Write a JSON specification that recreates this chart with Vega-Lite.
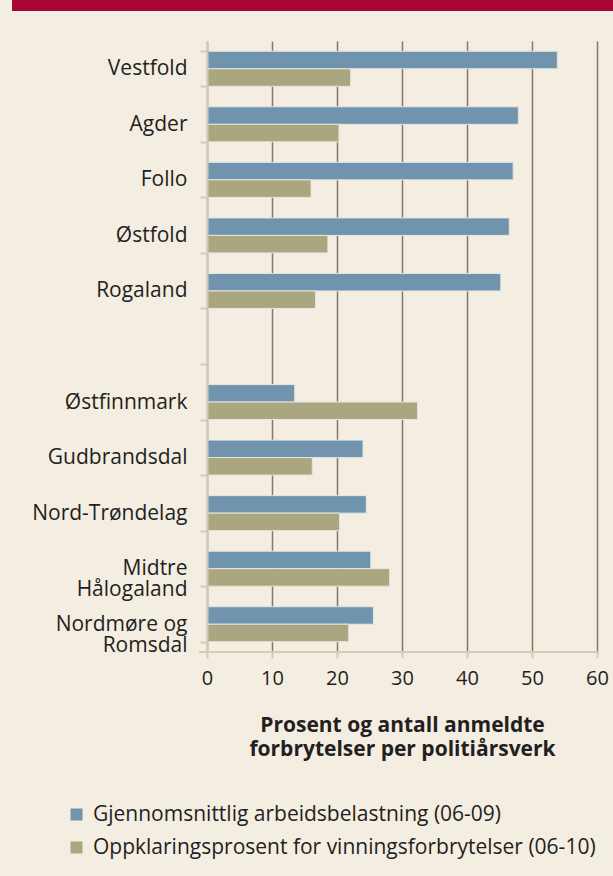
{
  "$schema": "https://vega.github.io/schema/vega-lite/v6.json",
  "background": "#f4ede1",
  "padding": {"left": 12, "top": 0, "right": 0, "bottom": 20},
  "config": {"font": "Open Sans", "view": {"stroke": null}},
  "spacing": 19,
  "resolve": {"legend": {"color": "independent"}},
  "vconcat": [
    {
      "width": 601,
      "height": 11,
      "view": {"fill": "#a80535", "stroke": null},
      "data": {"values": [{}]},
      "mark": {"type": "point", "opacity": 0},
      "encoding": {}
    },
    {
      "width": 601,
      "height": 611,
      "data": {
        "values": [
          {"region": "Vestfold", "series": "Gjennomsnittlig arbeidsbelastning (06-09)", "value": 53.9},
          {"region": "Vestfold", "series": "Oppklaringsprosent for vinningsforbrytelser (06-10)", "value": 22.1},
          {"region": "Agder", "series": "Gjennomsnittlig arbeidsbelastning (06-09)", "value": 47.9},
          {"region": "Agder", "series": "Oppklaringsprosent for vinningsforbrytelser (06-10)", "value": 20.3},
          {"region": "Follo", "series": "Gjennomsnittlig arbeidsbelastning (06-09)", "value": 47.1},
          {"region": "Follo", "series": "Oppklaringsprosent for vinningsforbrytelser (06-10)", "value": 16.0},
          {"region": "Østfold", "series": "Gjennomsnittlig arbeidsbelastning (06-09)", "value": 46.5},
          {"region": "Østfold", "series": "Oppklaringsprosent for vinningsforbrytelser (06-10)", "value": 18.6},
          {"region": "Rogaland", "series": "Gjennomsnittlig arbeidsbelastning (06-09)", "value": 45.2},
          {"region": "Rogaland", "series": "Oppklaringsprosent for vinningsforbrytelser (06-10)", "value": 16.7},
          {"region": "Østfinnmark", "series": "Gjennomsnittlig arbeidsbelastning (06-09)", "value": 13.5},
          {"region": "Østfinnmark", "series": "Oppklaringsprosent for vinningsforbrytelser (06-10)", "value": 32.4},
          {"region": "Gudbrandsdal", "series": "Gjennomsnittlig arbeidsbelastning (06-09)", "value": 24.0},
          {"region": "Gudbrandsdal", "series": "Oppklaringsprosent for vinningsforbrytelser (06-10)", "value": 16.2},
          {"region": "Nord-Trøndelag", "series": "Gjennomsnittlig arbeidsbelastning (06-09)", "value": 24.5},
          {"region": "Nord-Trøndelag", "series": "Oppklaringsprosent for vinningsforbrytelser (06-10)", "value": 20.4},
          {"region": "Midtre|Hålogaland", "series": "Gjennomsnittlig arbeidsbelastning (06-09)", "value": 25.2},
          {"region": "Midtre|Hålogaland", "series": "Oppklaringsprosent for vinningsforbrytelser (06-10)", "value": 28.1},
          {"region": "Nordmøre og|Romsdal", "series": "Gjennomsnittlig arbeidsbelastning (06-09)", "value": 25.6},
          {"region": "Nordmøre og|Romsdal", "series": "Oppklaringsprosent for vinningsforbrytelser (06-10)", "value": 21.8}
        ]
      },
      "layer": [
        {
          "mark": {"type": "bar", "stroke": "#e3e6e2", "strokeWidth": 1},
          "encoding": {
            "y": {
              "field": "region",
              "type": "nominal",
              "scale": {
                "domain": ["Vestfold", "Agder", "Follo", "Østfold", "Rogaland", " ", "Østfinnmark", "Gudbrandsdal", "Nord-Trøndelag", "Midtre|Hålogaland", "Nordmøre og|Romsdal"],
                "paddingInner": 0.37,
                "paddingOuter": 0.185
              },
              "axis": {
                "title": null,
                "offset": -195,
                "labelExpr": "split(datum.label, '|')",
                "labelFontSize": 21,
                "labelColor": "#231f20",
                "labelPadding": 13,
                "labelLineHeight": 21,
                "labelLimit": 300,
                "domainColor": "#d5ccb5",
                "domainWidth": 2,
                "tickColor": "#d5ccb5",
                "tickWidth": 2,
                "tickSize": 7,
                "tickBand": "extent",
                "zindex": 1,
                "grid": false
              }
            },
            "yOffset": {
              "field": "series",
              "type": "nominal",
              "scale": {"domain": ["Gjennomsnittlig arbeidsbelastning (06-09)", "Oppklaringsprosent for vinningsforbrytelser (06-10)"], "paddingInner": 0, "paddingOuter": 0}
            },
            "x": {
              "field": "value",
              "type": "quantitative",
              "scale": {"domain": [-30, 62.46], "nice": false, "zero": false},
              "axis": {
                "values": [0, 10, 20, 30, 40, 50, 60],
                "grid": true,
                "gridColor": "#857670",
                "gridWidth": 1.5,
                "domain": false,
                "tickColor": "#d5ccb5",
                "tickWidth": 2,
                "tickSize": 6,
                "labelFontSize": 20,
                "labelColor": "#231f20",
                "labelPadding": 10,
                "title": ["Prosent og antall anmeldte", "forbrytelser per politiårsverk"],
                "titleX": 390,
                "titleAlign": "center",
                "titleFontSize": 21,
                "titleFontWeight": "bold",
                "titleColor": "#231f20",
                "titleLineHeight": 24,
                "titlePadding": 26
              }
            },
            "color": {
              "field": "series",
              "type": "nominal",
              "scale": {"domain": ["Gjennomsnittlig arbeidsbelastning (06-09)", "Oppklaringsprosent for vinningsforbrytelser (06-10)"], "range": ["#7194ae", "#aaa67f"]},
              "legend": {
                "orient": "none",
                "legendX": 54,
                "legendY": 763,
                "title": null,
                "direction": "vertical",
                "symbolType": "square",
                "symbolSize": 144,
                "symbolStrokeWidth": 0,
                "symbolOpacity": 1,
                "labelFontSize": 21,
                "labelColor": "#231f20",
                "labelOffset": 6,
                "rowPadding": 11,
                "padding": 0,
                "labelLimit": 600
              }
            }
          }
        },
        {
          "mark": {"type": "rule", "color": "#d5ccb5", "strokeWidth": 2},
          "encoding": {
            "x": {"datum": -1.1, "type": "quantitative"},
            "x2": {"datum": 60.2},
            "y": {"datum": "Nordmøre og|Romsdal", "type": "nominal", "bandPosition": 1.2937}
          }
        }
      ]
    }
  ]
}
